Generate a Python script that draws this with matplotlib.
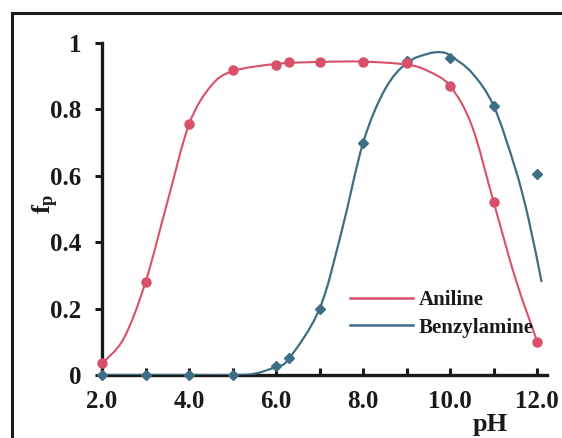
import numpy as np
import matplotlib
matplotlib.use("Agg")
import matplotlib.pyplot as plt
from matplotlib.path import Path
from matplotlib.patches import PathPatch
from matplotlib.lines import Line2D

# ---------------- data ----------------
ph_aniline = [2.0, 3.0, 4.0, 5.0, 6.0, 6.3, 7.0, 8.0, 9.0, 10.0, 11.0, 12.0]
fp_aniline = [0.035, 0.28, 0.755, 0.92, 0.935, 0.942, 0.943, 0.943, 0.94, 0.87, 0.52, 0.10]

# drawn (fitted) line for aniline
ph_aniline_fit = [2.0, 2.5, 3.0, 3.5, 4.0, 4.5, 5.0, 6.0, 7.0, 8.0, 9.0, 9.5, 10.0, 10.5, 11.0, 11.5, 12.0]
fp_aniline_fit = [0.035, 0.11, 0.28, 0.52, 0.755, 0.87, 0.915, 0.937, 0.943, 0.944, 0.935, 0.915, 0.87, 0.75, 0.52, 0.29, 0.10]

ph_benzyl = [2.0, 3.0, 4.0, 5.0, 6.0, 6.3, 7.0, 8.0, 9.0, 10.0, 11.0, 12.0]
fp_benzyl = [0.0, 0.0, 0.0, 0.0, 0.027, 0.05, 0.20, 0.70, 0.945, 0.955, 0.81, 0.605]

# drawn (fitted) line for benzylamine
ph_benzyl_fit = [2.0, 3.0, 4.0, 5.0, 5.5, 6.0, 6.3, 7.0, 7.5, 8.0, 8.5, 9.0, 9.5, 9.8, 10.0, 10.5, 11.0, 11.5, 11.8, 12.1]
fp_benzyl_fit = [0.0, 0.0, 0.0, 0.0, 0.004, 0.025, 0.05, 0.20, 0.43, 0.70, 0.86, 0.94, 0.968, 0.972, 0.962, 0.91, 0.81, 0.62, 0.47, 0.28]

series_names = ["Aniline", "Benzylamine"]
x_ticks = [2, 3, 4, 5, 6, 7, 8, 9, 10, 11, 12]
x_tick_labels = ["2.0", "", "4.0", "", "6.0", "", "8.0", "", "10.0", "", "12.0"]
y_ticks = [0, 0.2, 0.4, 0.6, 0.8, 1.0]
y_tick_labels = ["0", "0.2", "0.4", "0.6", "0.8", "1"]

# ---------------- style ----------------
c_an = "#d9506b"
c_bz = "#3e6e86"
ink = "#1a1a1a"
serif = "Liberation Serif"
plt.rcParams["font.family"] = [serif, "DejaVu Serif"]
plt.rcParams["mathtext.fontset"] = "custom"
plt.rcParams["mathtext.rm"] = "Liberation Serif:bold"
plt.rcParams["mathtext.it"] = "Liberation Serif:bold"
plt.rcParams["mathtext.bf"] = "Liberation Serif:bold"


def smooth_path(xs, ys, tension=1.0 / 6.0):
    """Catmull-Rom style smoothing (like spreadsheet smoothed lines)."""
    pts = np.column_stack([xs, ys]).astype(float)
    n = len(pts)
    verts = [pts[0]]
    codes = [Path.MOVETO]
    for i in range(n - 1):
        p0 = pts[i - 1] if i > 0 else pts[i]
        p1 = pts[i]
        p2 = pts[i + 1]
        p3 = pts[i + 2] if i + 2 < n else pts[i + 1]
        c1 = p1 + (p2 - p0) * tension
        c2 = p2 - (p3 - p1) * tension
        verts += [c1, c2, p2]
        codes += [Path.CURVE4] * 3
    return Path(verts, codes)


fig = plt.figure(figsize=(5.62, 4.38), dpi=100)
ax = fig.add_axes([0.1815, 0.1438, 0.973 - 0.1815, 0.9018 - 0.1438])

ax.add_patch(PathPatch(smooth_path(ph_aniline_fit, fp_aniline_fit), fill=False,
                       edgecolor=c_an, lw=1.5, zorder=3))
ax.add_patch(PathPatch(smooth_path(ph_benzyl_fit, fp_benzyl_fit), fill=False,
                       edgecolor=c_bz, lw=1.6, zorder=3))

ax.plot(ph_benzyl, fp_benzyl, ls="none", marker="D", ms=5.5, color=c_bz,
        zorder=4, clip_on=False)
ax.plot(ph_aniline, fp_aniline, ls="none", marker="o", ms=6.5, color=c_an,
        zorder=5, clip_on=False)

ax.set_xlim(2.0, 12.22)
ax.set_ylim(0, 1)
ax.set_xticks(x_ticks)
ax.set_xticklabels(x_tick_labels)
ax.set_yticks(y_ticks)
ax.set_yticklabels(y_tick_labels)

for s in ["top", "right"]:
    ax.spines[s].set_visible(False)
for s in ["left", "bottom"]:
    ax.spines[s].set_linewidth(2.4)
    ax.spines[s].set_color(ink)

ax.tick_params(axis="x", direction="in", length=5, width=2.2, pad=11,
               labelsize=18, colors=ink)
ax.tick_params(axis="y", direction="out", length=5, width=2.2, pad=10,
               labelsize=18, colors=ink)
for lab in ax.get_xticklabels() + ax.get_yticklabels():
    lab.set_fontweight("bold")

# axis labels
fig.text(0.082, 0.535, r"$\mathrm{f}_\mathrm{p}$", rotation=90, fontsize=19,
         ha="center", va="center", color=ink)
fig.text(0.872, 0.03, "pH", fontsize=19, fontweight="bold", ha="center",
         va="center", color=ink)

# legend
handles = [Line2D([], [], color=c_an, lw=1.8), Line2D([], [], color=c_bz, lw=1.8)]
leg = ax.legend(handles, series_names, loc="center left",
                bbox_to_anchor=(350 / 562, 1 - 314 / 438),
                bbox_transform=fig.transFigure, frameon=False, borderpad=0,
                borderaxespad=0, handlelength=3.0, handletextpad=0.3,
                labelspacing=0.35, prop={"family": serif, "weight": "bold",
                                         "size": 15})
for t in leg.get_texts():
    t.set_color(ink)

# outer frame of the scanned figure
fig.add_artist(Line2D([12 / 562, 12 / 562], [0, 1 - 13 / 438],
                      transform=fig.transFigure, color=ink, lw=2.2))
fig.add_artist(Line2D([12 / 562, 1.0], [1 - 13 / 438, 1 - 13 / 438],
                      transform=fig.transFigure, color=ink, lw=2.2))

fig.savefig("out.png", dpi=100)
